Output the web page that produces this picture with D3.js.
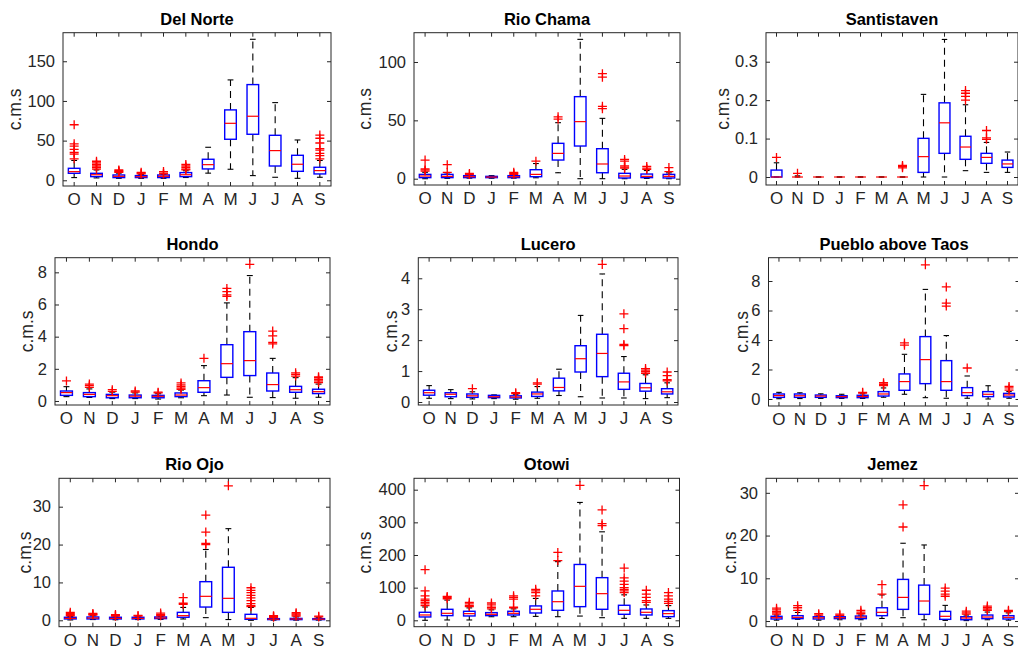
<!DOCTYPE html>
<html>
<head>
<meta charset="utf-8">
<script src="https://cdn.jsdelivr.net/npm/d3@7"></script>
<style>
  body { margin: 0; background: #fff; }
  svg { display: block; }
  text { font-family: "Liberation Sans", Arial, Helvetica, sans-serif; }
</style>
</head>
<body>
<svg id="chart" width="1018" height="651"></svg>
<script>
// Water-year months, October to September
const months = ["O", "N", "D", "J", "F", "M", "A", "M", "J", "J", "A", "S"];
const stationNames = ["Del Norte", "Rio Chama", "Santistaven", "Hondo", "Lucero",
  "Pueblo above Taos", "Rio Ojo", "Otowi", "Jemez"];
const unitLabel = "c.m.s";

// Per month: [lower whisker, Q1, median, Q3, upper whisker]
const delNorteStats = [
  [3.4, 8.8, 10.9, 15.1, 25], [3, 4.6, 7, 8.8, 13], [2.5, 3.4, 5, 6.7, 9], [2.5, 3.4, 4.5, 5.9, 7.5],
  [2.5, 3.4, 5, 6.7, 7.5], [3.5, 4.6, 7, 9.7, 12], [9, 14.3, 19.7, 26.5, 41.6], [13.9, 51.7, 71.8, 88.7, 126.5],
  [5.9, 58, 80.7, 120.6, 177.7], [3.8, 18, 37.4, 56.7, 97.9], [2.5, 11.3, 20.2, 31.5, 50.8], [3.8, 8, 12.2, 16.4, 25]
];
const delNorteOutliers = [
  [27, 33, 35, 39, 43, 46, 70], [14, 16, 18, 20, 22, 24], [10, 11, 12, 13], [8, 9, 10], [8, 9, 11],
  [13, 14, 16, 18, 20], [], [], [], [], [], [27, 31, 34, 38, 40, 47, 53, 57]
];

const rioChamaStats = [
  [0, 0.9, 2.3, 3.7, 5.5], [0.3, 0.9, 2, 3.7, 5], [0.5, 0.9, 1.7, 2.6, 3], [0.4, 0.9, 1.4, 2, 2.6],
  [0.5, 0.9, 1.7, 2.6, 3], [0.8, 1.7, 3.7, 7.7, 13], [5.1, 16, 21.7, 30.3, 48], [0, 28, 48.9, 70.3, 119.4],
  [0, 5.1, 12.6, 25.7, 51.7], [0, 0.6, 2.3, 4.6, 8], [0.2, 0.9, 2, 4, 7], [0, 0.6, 2, 3.7, 5]
];
const rioChamaOutliers = [
  [6.5, 7.5, 8.5, 16], [5.5, 12], [3.5, 4.5], [], [3.8, 4.5, 5.5], [15], [51, 53], [],
  [60, 62, 87, 90], [9, 10, 11, 15, 16.5], [8, 9, 10.5], [6, 9.5]
];

const santistavenStats = [
  [0, 0, 0, 0.018, 0.037], [0, 0, 0, 0, 0.003], [0, 0, 0, 0, 0], [0, 0, 0, 0, 0],
  [0, 0, 0, 0, 0], [0, 0, 0, 0, 0], [0, 0, 0, 0, 0], [0, 0.012, 0.053, 0.1006, 0.215],
  [0, 0.0616, 0.141, 0.193, 0.358], [0.0165, 0.046, 0.078, 0.106, 0.188], [0.012, 0.0356, 0.051, 0.0616, 0.09],
  [0.012, 0.025, 0.034, 0.044, 0.065]
];
const santistavenOutliers = [
  [0.051], [0.0095], [], [], [], [], [0.024, 0.027, 0.03], [], [],
  [0.2, 0.21, 0.218, 0.225], [0.098, 0.102, 0.121], []
];

const hondoStats = [
  [0.27, 0.35, 0.52, 0.62, 0.89], [0.22, 0.27, 0.41, 0.52, 0.75], [0.15, 0.2, 0.33, 0.41, 0.55],
  [0.15, 0.2, 0.3, 0.37, 0.5], [0.12, 0.2, 0.29, 0.35, 0.45], [0.2, 0.27, 0.37, 0.5, 0.68],
  [0.33, 0.54, 0.83, 1.26, 2.2], [0.37, 1.47, 2.32, 3.5, 6.1], [0.23, 1.58, 2.51, 4.31, 7.8],
  [0.21, 0.62, 1.02, 1.74, 2.65], [0.17, 0.54, 0.7, 0.91, 1.45], [0.23, 0.46, 0.58, 0.73, 1.05]
];
const hondoOutliers = [
  [1.25], [0.85, 0.95, 1.05], [0.6, 0.7], [0.55, 0.62], [0.5, 0.55], [0.72, 0.8, 0.9, 1.0, 1.12],
  [2.65], [6.5, 6.6, 6.8, 7.0], [8.5], [3.55, 3.65, 4.05, 4.35], [1.55, 1.65, 1.75], [1.15, 1.25, 1.35, 1.45, 1.5]
];

const luceroStats = [
  [0.12, 0.22, 0.3, 0.38, 0.53], [0.11, 0.17, 0.25, 0.3, 0.4], [0.1, 0.15, 0.2, 0.26, 0.33],
  [0.11, 0.14, 0.17, 0.215, 0.23], [0.09, 0.13, 0.16, 0.2, 0.25], [0.12, 0.18, 0.26, 0.32, 0.5],
  [0.21, 0.36, 0.47, 0.77, 1.06], [0.17, 0.97, 1.4, 1.82, 2.8], [0.13, 0.82, 1.57, 2.19, 4.14],
  [0.13, 0.41, 0.65, 0.93, 1.47], [0.11, 0.35, 0.46, 0.6, 0.88], [0.14, 0.26, 0.33, 0.43, 0.62]
];
const luceroOutliers = [
  [], [], [0.43], [], [0.27, 0.3], [0.58, 0.62], [], [], [4.45],
  [1.82, 1.86, 2.37, 2.85], [0.93, 0.98, 1.03, 1.08], [0.68, 0.72, 0.85, 0.97]
];

const puebloStats = [
  [0.02, 0.11, 0.23, 0.34, 0.45], [0.03, 0.11, 0.22, 0.34, 0.42], [0.04, 0.11, 0.2, 0.27, 0.35],
  [0.04, 0.09, 0.16, 0.22, 0.32], [0.04, 0.09, 0.17, 0.25, 0.35], [0.12, 0.2, 0.34, 0.5, 0.75],
  [0.32, 0.59, 1.18, 1.7, 3.03], [0.09, 1.04, 2.67, 4.23, 7.43], [0.05, 0.59, 1.18, 2.6, 4.3],
  [0.05, 0.23, 0.43, 0.77, 1.56], [0, 0.16, 0.32, 0.5, 0.9], [0.05, 0.14, 0.27, 0.38, 0.5]
];
const puebloOutliers = [
  [], [], [], [], [0.4, 0.45], [0.9, 1.0, 1.1], [3.65, 3.8], [9.1], [6.3, 6.5, 7.6], [2.1], [], [0.6, 0.75, 0.85]
];

const rioOjoStats = [
  [0.1, 0.35, 0.5, 0.8, 1.0], [0.2, 0.35, 0.6, 0.88, 1.2], [0.15, 0.35, 0.5, 0.8, 0.9],
  [0.2, 0.35, 0.5, 0.8, 0.9], [0.25, 0.44, 0.6, 0.88, 1.0], [0.35, 0.8, 1.23, 2.1, 3.4],
  [0.7, 3.5, 6.33, 10.2, 18.7], [0.2, 2.1, 5.8, 14, 24.2], [0, 0.26, 0.53, 1.58, 3.4],
  [0.05, 0.18, 0.3, 0.44, 0.7], [0.05, 0.18, 0.35, 0.5, 0.9], [0.05, 0.18, 0.3, 0.44, 0.7]
];
const rioOjoOutliers = [
  [1.2, 1.5, 1.8, 2.1], [1.4, 1.6, 1.8], [1.1, 1.3, 1.5], [1.1, 1.3], [1.2, 1.5, 1.9], [4.2, 4.5, 6.0],
  [20, 20.3, 23.3, 27.8], [35.5], [3.6, 3.9, 4.4, 5.2, 5.9, 6.6, 7.3, 7.9, 8.6], [0.8, 1.0, 1.2],
  [1.1, 1.4, 1.7, 2.0], [0.9, 1.1]
];

const otowiStats = [
  [0, 10.2, 16.3, 24.5, 40.8], [1, 14.3, 21.4, 33.7, 62], [1, 13.3, 20.4, 27.6, 38], [11, 14.3, 18.4, 23.5, 32],
  [11, 16.3, 21.4, 27.6, 35], [12, 22.4, 33.7, 44, 67], [11, 30.6, 57, 89.8, 179.6], [13, 41.8, 104, 171, 361],
  [8, 33.7, 81.6, 130.6, 271], [6, 18.4, 30.6, 46, 78], [6, 16.3, 24.5, 34.7, 47], [6, 11.2, 20.4, 29.6, 45]
];
const otowiOutliers = [
  [45, 50, 55, 60, 65, 75, 90, 155], [66, 70, 73], [42, 45, 50, 55], [35, 40, 47, 53], [38, 40, 65, 70, 75],
  [75, 85, 90, 95], [183, 208], [413], [290, 296, 338], [85, 90, 95, 100, 110, 120, 130, 160],
  [55, 60, 70, 80, 92], [52, 58, 65, 75, 85]
];

const jemezStats = [
  [0.2, 0.47, 0.78, 1.1, 1.4], [0.4, 0.55, 0.86, 1.25, 2.0], [0.2, 0.47, 0.75, 1.0, 1.2],
  [0.3, 0.55, 0.78, 1.0, 1.2], [0.3, 0.55, 0.9, 1.17, 1.4], [0.6, 1.25, 2.03, 3.1, 6.1],
  [0.78, 2.73, 5.53, 9.74, 18.2], [0.3, 1.56, 4.68, 8.4, 17.8], [0.15, 0.39, 1.1, 2.26, 3.66],
  [0.1, 0.3, 0.7, 1.0, 1.4], [0.3, 0.55, 0.94, 1.4, 2.1], [0.2, 0.47, 0.86, 1.25, 1.9]
];
const jemezOutliers = [
  [1.6, 1.9, 2.2, 2.6, 3.0], [2.5, 3.1, 3.6], [1.4, 1.7], [1.3, 1.6], [1.7, 2.1, 2.5], [6.3, 8.5],
  [22, 27.2], [31.7], [5.8, 6.3, 7.0, 7.7], [1.6, 1.9, 2.3], [2.5, 2.8, 3.1, 3.5], [2.2, 2.5]
];

// Axis limits and tick values for each station
const yLimits = [[-7.2, 186], [-5.4, 125.1], [-0.0208, 0.3755], [-0.25, 8.91], [-0.097, 4.666],
  [-0.475, 9.58], [-1.69, 37.5], [-19.6, 434.9], [-1.33, 33.4]];
const yTicks = [[0, 50, 100, 150], [0, 50, 100], [0, 0.1, 0.2, 0.3], [0, 2, 4, 6, 8], [0, 1, 2, 3, 4],
  [0, 2, 4, 6, 8], [0, 10, 20, 30], [0, 100, 200, 300, 400], [0, 10, 20, 30]];

const allStats = [delNorteStats, rioChamaStats, santistavenStats, hondoStats, luceroStats,
  puebloStats, rioOjoStats, otowiStats, jemezStats];
const allOutliers = [delNorteOutliers, rioChamaOutliers, santistavenOutliers, hondoOutliers, luceroOutliers,
  puebloOutliers, rioOjoOutliers, otowiOutliers, jemezOutliers];

// Plot-area rectangles of the 3x3 grid, plus the distance of the y label from the left edge
const frames = [
  { x0: 63, x1: 331, y0: 32.7, y1: 186, lab: 48 },
  { x0: 414, x1: 680, y0: 32.7, y1: 185, lab: 49 },
  { x0: 766, x1: 1018, y0: 32.7, y1: 185, lab: 43 },
  { x0: 55, x1: 330, y0: 257.7, y1: 405, lab: 28 },
  { x0: 418.3, x1: 678, y0: 257.7, y1: 405, lab: 27 },
  { x0: 768.5, x1: 1019.5, y0: 257.7, y1: 406, lab: 27 },
  { x0: 59, x1: 330, y0: 478.3, y1: 626.7, lab: 34 },
  { x0: 414, x1: 679.5, y0: 478.3, y1: 626.7, lab: 49 },
  { x0: 766, x1: 1019, y0: 478.3, y1: 626.7, lab: 36 }
];

const axisColor = "#262626";
const fontStack = '"Liberation Sans", Arial, sans-serif';
const tickFmt = d3.format("~g");
const svg = d3.select("#chart");

frames.forEach((f, i) => {
  const g = svg.append("g");
  const x = d3.scaleBand().domain(d3.range(12)).range([f.x0, f.x1]);
  const y = d3.scaleLinear().domain(yLimits[i]).range([f.y1, f.y0]);
  const bw = x.bandwidth() * 0.52;
  const cw = bw * 0.5;
  const cx = k => x(k) + x.bandwidth() / 2;

  // axes with inward ticks on all four sides
  const styleAxis = size => sel => {
    sel.select(".domain").remove();
    sel.selectAll(".tick line").attr("stroke", axisColor).attr("stroke-width", 1);
    sel.selectAll(".tick text").attr("fill", axisColor).attr("font-size", size)
      .attr("font-family", fontStack);
  };
  g.append("g").attr("transform", `translate(${f.x0},0)`)
    .call(d3.axisLeft(y).tickValues(yTicks[i]).tickSize(-4).tickPadding(8).tickFormat(tickFmt))
    .call(styleAxis(16.5));
  g.append("g").attr("transform", `translate(${f.x1},0)`)
    .call(d3.axisRight(y).tickValues(yTicks[i]).tickSize(-4).tickFormat(""))
    .call(styleAxis(16.5));
  g.append("g").attr("transform", `translate(0,${f.y1})`)
    .call(d3.axisBottom(x).tickSize(-4).tickPadding(7).tickFormat(k => months[k]))
    .call(styleAxis(17));
  g.append("g").attr("transform", `translate(0,${f.y0})`)
    .call(d3.axisTop(x).tickSize(-4).tickFormat(""))
    .call(styleAxis(17));
  g.append("rect")
    .attr("x", f.x0).attr("y", f.y0)
    .attr("width", f.x1 - f.x0).attr("height", f.y1 - f.y0)
    .attr("fill", "none").attr("stroke", axisColor).attr("stroke-width", 1);

  // title and y label
  g.append("text")
    .attr("x", (f.x0 + f.x1) / 2).attr("y", f.y0 - 8)
    .attr("text-anchor", "middle").attr("font-size", 16.5).attr("font-weight", "bold")
    .attr("fill", "#000").text(stationNames[i]);
  g.append("text")
    .attr("transform", `translate(${f.x0 - f.lab},${(f.y0 + f.y1) / 2}) rotate(-90)`)
    .attr("text-anchor", "middle").attr("dy", "0.35em")
    .attr("font-size", 17.5).attr("fill", axisColor).text(unitLabel);

  const stats = allStats[i];
  const boxes = g.append("g").selectAll("g").data(stats).join("g");

  // dashed whiskers
  boxes.append("line")
    .attr("x1", (d, k) => cx(k)).attr("x2", (d, k) => cx(k))
    .attr("y1", d => y(d[3])).attr("y2", d => y(d[4]))
    .attr("stroke", "#000").attr("stroke-dasharray", "7,5").attr("stroke-width", 1.1);
  boxes.append("line")
    .attr("x1", (d, k) => cx(k)).attr("x2", (d, k) => cx(k))
    .attr("y1", d => y(d[1])).attr("y2", d => y(d[0]))
    .attr("stroke", "#000").attr("stroke-dasharray", "7,5").attr("stroke-width", 1.1);
  // whisker caps
  [0, 4].forEach(j => {
    boxes.append("line")
      .attr("x1", (d, k) => cx(k) - cw / 2).attr("x2", (d, k) => cx(k) + cw / 2)
      .attr("y1", d => y(d[j])).attr("y2", d => y(d[j]))
      .attr("stroke", "#000").attr("stroke-width", 1.1);
  });
  // interquartile box
  boxes.append("rect")
    .attr("x", (d, k) => cx(k) - bw / 2).attr("width", bw)
    .attr("y", d => y(d[3])).attr("height", d => y(d[1]) - y(d[3]))
    .attr("fill", "none").attr("stroke", "#0000ff").attr("stroke-width", 1.4);
  // median
  boxes.append("line")
    .attr("x1", (d, k) => cx(k) - bw / 2).attr("x2", (d, k) => cx(k) + bw / 2)
    .attr("y1", d => y(d[2])).attr("y2", d => y(d[2]))
    .attr("stroke", "#ff0000").attr("stroke-width", 1.2);

  // outliers as red plus signs
  const pts = [];
  allOutliers[i].forEach((vals, k) => vals.forEach(v => pts.push({ k, v })));
  g.append("g").selectAll("path").data(pts).join("path")
    .attr("d", p => {
      const px = cx(p.k), py = y(p.v), r = 4.5;
      return `M${px - r},${py}H${px + r}M${px},${py - r}V${py + r}`;
    })
    .attr("stroke", "#ff0000").attr("stroke-width", 1.3).attr("fill", "none");
});
</script>
</body>
</html>
